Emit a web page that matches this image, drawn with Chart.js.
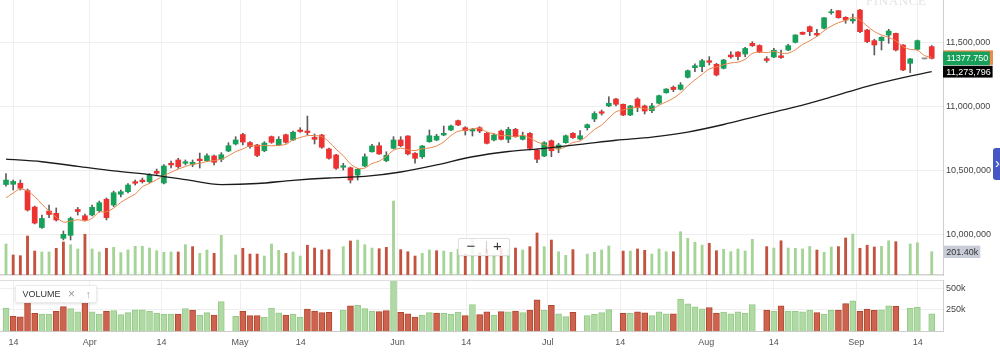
<!DOCTYPE html>
<html><head><meta charset="utf-8">
<script src="https://cdn.jsdelivr.net/npm/chart.js@4.4.1/dist/chart.umd.min.js"></script>
<style>
html,body{margin:0;padding:0;background:#fff;}
#wrap{position:relative;width:1000px;height:354px;overflow:hidden;font-family:"Liberation Sans",Arial,Helvetica,sans-serif;}
canvas{position:absolute;left:0;}
.wm{position:absolute;left:866px;top:-6px;font:13px/13px "Liberation Serif","DejaVu Serif",serif;letter-spacing:0.6px;color:#e4e4e4;}
.zoom{position:absolute;left:458px;top:238px;width:52px;height:18px;background:rgba(255,255,255,0.85);border:1px solid #e0e0e0;border-radius:2px;box-sizing:border-box;box-shadow:0 1px 2px rgba(0,0,0,0.06);}
.zoom span{position:absolute;top:-1px;font-size:15px;line-height:16px;color:#333;}
.zoom .sep{position:absolute;left:26.5px;top:2px;width:1px;height:12px;background:#cfcfcf;}
.legend{position:absolute;left:15px;top:285px;width:82px;height:18px;background:#fff;border:1px solid #ececec;border-radius:2px;box-shadow:0 1px 3px rgba(0,0,0,0.12);box-sizing:border-box;}
.legend span{position:absolute;top:0;line-height:16px;}
.tab{position:absolute;left:993px;top:148px;width:14px;height:32px;background:#4557c2;border-radius:3px 0 0 3px;color:#fff;font-size:14px;line-height:30px;box-sizing:border-box;padding-left:2px;}
</style></head><body>
<div id="wrap">
<canvas id="cMain" width="1000" height="277" style="top:0"></canvas>
<canvas id="cVol" width="1000" height="78" style="top:276px"></canvas>
<div class="wm">FINANCE</div>
<div class="zoom"><span style="left:7.5px">−</span><div class="sep"></div><span style="left:34px">+</span></div>
<div class="legend"><span style="left:6.5px;font-size:9px;color:#333">VOLUME</span><span style="left:52px;font-size:12px;color:#9a9a9a">×</span><span style="left:69.5px;font-size:11px;color:#aaa">↑</span></div>
<div class="tab">›</div>
</div>
<script>
// ---- data (prices in thousands, volume in thousands) ----
const openP = [10392,10394,10402,10345,10216,10056,10185,10167,9972,9995,
10197,10148,10154,10188,10277,10232,10316,10336,10414,10427,
10414,10495,10404,10558,10584,10558,10550,10591,10578,10615,
10589,10654,10709,10783,10720,10701,10656,10766,10701,10781,
10740,10818,10810,10761,10779,10670,10623,10527,10523,10466,
10537,10648,10695,10578,10675,10740,10771,10636,10609,10727,
10740,10779,10818,10891,10836,10810,10836,10792,10740,10810,
10745,10823,10745,10792,10662,10615,10734,10675,10719,10792,
10748,10836,10904,10961,11006,11060,11019,10935,11060,11006,
10969,11027,11109,11152,11136,11230,11305,11313,11359,11331,
11300,11404,11427,11412,11495,11478,11375,11388,11398,11443,
11503,11581,11625,11573,11613,11734,11750,11698,11670,11755,
11599,11516,11516,11560,11573,11482,11339,11448,11374,11469];
const highP = [10478,10427,10427,10357,10224,10154,10232,10209,10029,10138,
10213,10162,10232,10263,10287,10341,10349,10400,10427,10443,
10478,10513,10548,10576,10597,10584,10584,10638,10631,10623,
10641,10719,10766,10792,10728,10706,10727,10771,10766,10787,
10810,10836,10927,10787,10784,10677,10628,10558,10529,10517,
10631,10706,10719,10648,10766,10766,10775,10641,10698,10818,
10784,10849,10857,10896,10844,10831,10844,10800,10791,10818,
10839,10831,10802,10797,10667,10727,10740,10714,10779,10797,
10813,10865,10961,10974,11078,11066,11021,11011,11070,11013,
11027,11091,11141,11162,11188,11287,11334,11370,11391,11339,
11370,11430,11430,11463,11508,11484,11391,11456,11443,11488,
11563,11584,11631,11605,11697,11761,11753,11703,11724,11761,
11605,11527,11547,11605,11576,11486,11378,11521,11375,11478];
const lowP = [10380,10349,10349,10185,10084,10049,10134,10107,9959,9959,
10154,10107,10146,10177,10115,10220,10295,10326,10388,10404,
10404,10470,10396,10521,10519,10545,10531,10521,10570,10545,
10570,10648,10701,10701,10677,10609,10648,10714,10695,10716,
10736,10800,10779,10709,10675,10591,10511,10505,10404,10427,
10531,10644,10628,10570,10670,10688,10623,10558,10597,10722,
10734,10773,10813,10852,10779,10771,10797,10709,10732,10740,
10719,10761,10740,10662,10563,10609,10609,10641,10714,10753,
10740,10818,10883,10935,11000,11006,10930,10930,10961,10943,
10953,11021,11105,11117,11131,11224,11273,11273,11326,11240,
11295,11378,11365,11391,11470,11422,11347,11383,11378,11438,
11498,11563,11555,11552,11607,11722,11691,11652,11652,11578,
11500,11404,11443,11495,11435,11281,11266,11443,11373,11373];
const closeP = [10427,10416,10363,10193,10091,10127,10158,10115,10003,10127,
10181,10115,10214,10250,10133,10328,10336,10388,10402,10414,
10466,10480,10537,10545,10531,10570,10566,10578,10617,10566,
10625,10695,10740,10724,10689,10619,10716,10722,10745,10722,
10801,10806,10798,10745,10683,10597,10519,10539,10427,10511,
10609,10693,10631,10620,10740,10695,10631,10597,10693,10773,
10770,10792,10849,10857,10813,10823,10810,10714,10779,10745,
10823,10766,10771,10675,10589,10719,10656,10701,10773,10758,
10773,10859,10947,10949,11027,11019,10935,11006,10992,10966,
11006,11086,11138,11134,11170,11281,11320,11359,11347,11248,
11365,11389,11392,11455,11477,11427,11361,11441,11384,11477,
11560,11566,11586,11560,11695,11742,11695,11677,11683,11586,
11508,11482,11542,11591,11443,11287,11373,11516,11374,11377.75];
const volumeK = [268,173,167,337,207,199,199,231,285,262,
225,352,225,199,231,239,193,216,248,248,
233,210,196,199,199,262,245,187,216,187,
343,null,173,231,181,181,164,268,213,187,
199,164,257,233,216,219,null,245,294,302,
262,233,227,239,639,219,201,164,187,216,
210,207,196,222,182,309,193,224,185,228,
224,233,216,245,363,245,302,201,170,219,
null,181,196,216,251,null,207,207,225,213,
181,225,201,201,374,317,283,259,274,210,
222,201,225,207,308,null,245,233,296,233,
231,225,246,216,196,242,245,320,354,231,
257,242,248,296,288,null,268,279,null,201.4];
const ma5 = [10287,10326,10357,10341,10298,10238,10186,10137,10099,10106,
10117,10108,10128,10177,10179,10208,10252,10287,10317,10374,
10401,10430,10460,10488,10512,10533,10550,10558,10572,10579,
10590,10616,10649,10670,10695,10693,10698,10694,10698,10705,
10741,10759,10774,10774,10767,10726,10668,10617,10553,10519,
10521,10556,10574,10613,10659,10676,10663,10657,10671,10678,
10693,10725,10775,10808,10816,10827,10830,10803,10788,10774,
10774,10765,10777,10756,10725,10704,10682,10668,10688,10721,
10732,10773,10822,10857,10911,10960,10975,10987,10996,10984,
10981,11011,11038,11066,11107,11162,11209,11253,11295,11311,
11328,11342,11348,11370,11416,11428,11422,11432,11418,11418,
11445,11486,11515,11550,11593,11630,11656,11674,11698,11677,
11630,11587,11560,11542,11513,11469,11447,11442,11399,11385.6];
const maLongAt  = [0,5,10,15,20,25,30,35,40,45,50,55,60,65,70,75,80,85,90,95,100,105,110,115,120,125,129];
const maLongVal = [10590,10570,10534,10498,10470,10431,10392,10400,10425,10443,10455,10490,10545,10609,10650,10675,10705,10738,10763,10802,10861,10931,10998,11076,11159,11227,11273.796];
const xTickAt     = [1.05,11.66,21.67,32.61,41.08,54.56,64.13,75.5,85.61,97.58,107.0,118.49,127.06];
const xTickLabels = ['14','Apr','14','May','14','Jun','14','Jul','14','Aug','14','Sep','14'];
const priceTicks = [10000,10500,11000,11500];
const volTicks = [250,500];

// ---- helpers ----
const FONT = '"Liberation Sans", Arial, Helvetica, sans-serif';
Chart.defaults.font.family = FONT;
Chart.defaults.font.size = 9;
const fmt = v => Math.round(v).toString().replace(/\B(?=(\d{3})+(?!\d))/g, ',');
const N = closeP.length, last = N - 1;
const idx = closeP.map((_, i) => i);
const X_MIN = -0.836, X_MAX = 130.57;
const UP = '#17a05a', DN = '#ee3232', EV = '#8c8c8c';
const bodyCol = idx.map(i => closeP[i] > openP[i] ? UP : (closeP[i] < openP[i] ? DN : EV));
const volUp = idx.map(i => i === 0 || closeP[i] >= closeP[i - 1]);
const noPad = s => { s.paddingTop = 0; s.paddingBottom = 0; s.paddingLeft = 0; s.paddingRight = 0; };
const setXTicks = s => { s.ticks = xTickAt.map(v => ({ value: v })); };
const GRID = '#efefef';

const wickData = idx.map(i => ({ x: i, y: [lowP[i], highP[i]] }));
const bodyData = idx.map(i => ({ x: i, y: [openP[i], closeP[i]] }));
const volData = idx.filter(i => volumeK[i] != null).map(i => ({ x: i, y: volumeK[i] }));
const ma5Data = idx.map(i => ({ x: i, y: ma5[i] }));
const maLongData = maLongAt.map((x, k) => ({ x: x, y: maLongVal[k] }));

const axisBoxes = {
  id: 'axisBoxes',
  afterDraw(chart) {
    const { ctx } = chart; const y = chart.scales.y, yv = chart.scales.yv;
    const L = y.left;
    ctx.save();
    ctx.font = '9px ' + FONT; ctx.textBaseline = 'middle'; ctx.textAlign = 'left';
    let p = y.getPixelForValue(ma5[last]);
    ctx.fillStyle = '#ee8a4c'; ctx.fillRect(L, p - 7, 50, 14.5);
    p = y.getPixelForValue(closeP[last]);
    ctx.fillStyle = UP; ctx.fillRect(L, p - 6.8, 46.8, 13.6);
    ctx.fillStyle = '#fff'; ctx.fillText(closeP[last].toFixed(3), L + 3.5, p + 0.5);
    p = y.getPixelForValue(maLongVal[maLongVal.length - 1]);
    ctx.fillStyle = '#000'; ctx.fillRect(L, p - 5.9, 49.6, 11.8);
    ctx.fillStyle = '#fff'; ctx.fillText(fmt(maLongVal[maLongVal.length - 1] * 1000), L + 3.3, p + 0.5);
    p = yv.getPixelForValue(volumeK[last]);
    ctx.fillStyle = '#c8ccd6'; ctx.fillRect(L, p - 6, 37.3, 12.3);
    ctx.fillStyle = '#333'; ctx.fillText(volumeK[last].toFixed(2) + 'k', L + 3.3, p + 0.6);
    ctx.restore();
  }
};

new Chart(document.getElementById('cMain'), {
  type: 'bar',
  data: { datasets: [
    { type: 'line', data: maLongData, yAxisID: 'y', borderColor: '#1c1c1c', borderWidth: 1.3, pointRadius: 0, cubicInterpolationMode: 'monotone', order: 1 },
    { type: 'line', data: ma5Data, yAxisID: 'y', borderColor: '#e8864c', borderWidth: 1, pointRadius: 0, tension: 0.3, order: 2 },
    { data: bodyData, yAxisID: 'y', barThickness: 5, minBarLength: 1, grouped: false, borderWidth: 0,
      backgroundColor: c => bodyCol[c.dataIndex], order: 3 },
    { data: wickData, yAxisID: 'y', barThickness: 1, grouped: false, borderWidth: 0, backgroundColor: '#5c5c5c', order: 4 },
    { data: volData, yAxisID: 'yv', barThickness: 2.2, grouped: false, borderWidth: 0,
      backgroundColor: c => volUp[c.raw.x] ? '#a5d497' : '#c3523e', order: 5 }
  ]},
  options: {
    animation: false, responsive: false, events: [],
    layout: { padding: { left: 0, right: 0, top: 0, bottom: 2 } },
    plugins: { legend: { display: false }, tooltip: { enabled: false } },
    scales: {
      x: { type: 'linear', min: X_MIN, max: X_MAX, offset: false,
        afterBuildTicks: setXTicks, afterFit: s => { s.height = 0; noPad(s); },
        ticks: { display: false, autoSkip: false },
        grid: { color: GRID, drawTicks: false, offset: false },
        border: { display: true, color: '#d2d2d2', width: 1.5 } },
      y: { position: 'right', min: 9685.2, max: 11833.6,
        afterBuildTicks: s => { s.ticks = priceTicks.map(v => ({ value: v })); },
        afterFit: s => { s.width = 57; noPad(s); },
        ticks: { padding: 3, color: '#444', font: { size: 9 }, callback: v => fmt(v * 1000) },
        grid: { color: GRID, drawTicks: false },
        border: { display: true, color: '#cfcfcf' } },
      yv: { display: false, min: 0, max: 2376 }
    }
  },
  plugins: [axisBoxes]
});

const panelTop = {
  id: 'panelTop',
  afterDraw(c) { const { ctx, chartArea: a } = c; ctx.save(); ctx.strokeStyle = '#dedede'; ctx.lineWidth = 1;
    ctx.beginPath(); ctx.moveTo(a.left, a.top + 0.5); ctx.lineTo(a.right, a.top + 0.5); ctx.stroke(); ctx.restore(); }
};

new Chart(document.getElementById('cVol'), {
  type: 'bar',
  data: { datasets: [
    { data: volData, barThickness: 6, grouped: false, borderWidth: 1,
      backgroundColor: c => volUp[c.raw.x] ? '#b0daa4' : '#cd634e',
      borderColor: c => volUp[c.raw.x] ? '#97ca8a' : '#b2472f' }
  ]},
  options: {
    animation: false, responsive: false, events: [],
    layout: { padding: { left: 0, right: 0, top: 4, bottom: 0 } },
    plugins: { legend: { display: false }, tooltip: { enabled: false } },
    scales: {
      x: { type: 'linear', min: X_MIN, max: X_MAX, offset: false,
        afterBuildTicks: setXTicks, afterFit: s => { s.height = 22.7; noPad(s); },
        ticks: { autoSkip: false, maxRotation: 0, padding: 6, color: '#555', font: { size: 9 },
          callback: (v, i) => xTickLabels[i] },
        grid: { color: GRID, drawTicks: false, offset: false },
        border: { display: true, color: '#cccccc' } },
      y: { position: 'right', min: 0, max: 594,
        afterBuildTicks: s => { s.ticks = volTicks.map(v => ({ value: v })); },
        afterFit: s => { s.width = 57; noPad(s); },
        ticks: { padding: 3, color: '#444', font: { size: 9 }, callback: v => v + 'k' },
        grid: { color: GRID, drawTicks: false },
        border: { display: true, color: '#cfcfcf' } }
    }
  },
  plugins: [panelTop]
});
</script>
</body></html>
